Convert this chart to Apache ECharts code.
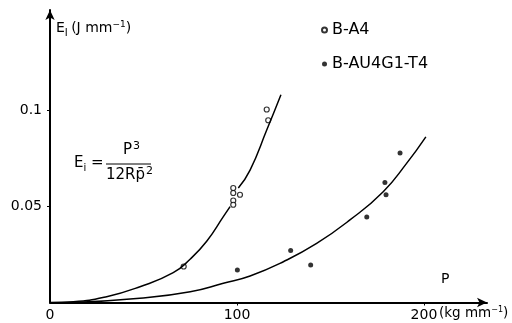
<!DOCTYPE html>
<html><head><meta charset="utf-8">
<script src="https://cdn.jsdelivr.net/npm/echarts@6/dist/echarts.min.js"></script>
<style>html,body{margin:0;padding:0;background:#fff}#c{width:512px;height:323px}</style>
</head><body><div id="c"></div>
<script>
// B-A4 (open circles)
const aP = [71.5, 98, 98, 98, 98, 101.6, 115.9, 116.7];
const aE = [0.0187, 0.0595, 0.0569, 0.053, 0.0508, 0.056, 0.1003, 0.0947];
// B-AU4G1-T4 (filled dots)
const bP = [100.2, 128.7, 139.4, 169.4, 179.1, 179.7, 187.2];
const bE = [0.0169, 0.027, 0.0195, 0.0444, 0.0624, 0.056, 0.0777];
// fitted curves ('-' = gap in the drawn line)
const curveAP = [0, 12.5, 30.3, 48.1, 65.9, 74.9, 83.8, 92.7, 96.3, 98.5, 100.7, 107, 115.9, 123.5];
const curveAE = [0, 0.0004, 0.003, 0.0082, 0.0155, 0.0225, 0.0318, 0.0446, 0.0498, '-', 0.0595, 0.0688, 0.0896, 0.108];
const curveBP = [12.5, 48, 75, 92.7, 107, 124.8, 142.6, 160.4, 178.2, 190.7, 201];
const curveBE = [0, 0.0022, 0.0056, 0.01, 0.0138, 0.0212, 0.0307, 0.0429, 0.0576, 0.0723, 0.0861];
const xLabels = [0, 100, 200];
const yLabels = [0.05, 0.1];

const zip = (xs, ys) => xs.map((x, i) => [x, ys[i]]);
const font = 'DejaVu Sans';
const chart = echarts.init(document.getElementById('c'));
chart.setOption({
  animation: false,
  backgroundColor: '#fff',
  grid: {left: 50, right: 25, top: 10, bottom: 20.5},
  xAxis: {
    type: 'value', min: 0, max: 233.7, interval: 100,
    splitLine: {show: false},
    axisLine: {lineStyle: {color: '#000', width: 2}, symbol: ['none', 'arrow'], symbolSize: [7, 10]},
    axisTick: {customValues: [100, 200], length: 3, lineStyle: {color: '#000'}},
    axisLabel: {customValues: xLabels, color: '#000', fontFamily: font, fontSize: 14, margin: 6,
      formatter: v => String(v)}
  },
  yAxis: {
    type: 'value', min: 0, max: 0.152, interval: 0.05,
    splitLine: {show: false},
    axisLine: {lineStyle: {color: '#000', width: 2}, symbol: ['none', 'arrow'], symbolSize: [7, 10]},
    axisTick: {customValues: yLabels, length: 3, lineStyle: {color: '#000'}},
    axisLabel: {customValues: yLabels, color: '#000', fontFamily: font, fontSize: 14, margin: 8,
      formatter: v => String(v)}
  },
  legend: {
    orient: 'vertical', left: 316, top: 17, itemGap: 18, itemWidth: 5, itemHeight: 5,
    textStyle: {color: '#000', fontFamily: font, fontSize: 16},
    data: [{name: 'B-A4', icon: 'circle'}, {name: 'B-AU4G1-T4', icon: 'circle'}]
  },
  series: [
    {type: 'line', data: zip(curveAP, curveAE), smooth: 0.5, showSymbol: false, silent: true,
      connectNulls: false, lineStyle: {color: '#000', width: 1.5}},
    {type: 'line', data: zip(curveBP, curveBE), smooth: 0.5, showSymbol: false, silent: true,
      lineStyle: {color: '#000', width: 1.5}},
    {name: 'B-A4', type: 'scatter', data: zip(aP, aE), symbol: 'circle', symbolSize: 5,
      itemStyle: {color: '#fff', borderColor: '#000', borderWidth: 1.2}},
    {name: 'B-AU4G1-T4', type: 'scatter', data: zip(bP, bE), symbol: 'circle', symbolSize: 5,
      itemStyle: {color: '#000'}}
  ],
  graphic: [
    {type: 'text', left: 56, top: 20, style: {
      text: '{m|E}{s|I} {m|(J mm}{u|−1}{m|)}', rich: {
        m: {fontFamily: font, fontSize: 14, fill: '#000'},
        s: {fontFamily: font, fontSize: 10, fill: '#000', padding: [9, 0, 0, 0]},
        u: {fontFamily: font, fontSize: 9, fill: '#000', padding: [0, 0, 8, 0]}
      }}},
    {type: 'text', left: 74, top: 156, style: {
      text: '{m|E}{s|i}{m| =}', rich: {
        m: {fontFamily: font, fontSize: 15, fill: '#000'},
        s: {fontFamily: font, fontSize: 10, fill: '#000', padding: [9, 0, 0, 0]}
      }}},
    {type: 'text', left: 123, top: 141, style: {
      text: '{m|P}{u|3}', rich: {
        m: {fontFamily: font, fontSize: 15, fill: '#000'},
        u: {fontFamily: font, fontSize: 11, fill: '#000', padding: [0, 0, 7, 1]}
      }}},
    {type: 'line', shape: {x1: 106, y1: 164, x2: 151, y2: 164}, style: {stroke: '#000', lineWidth: 1}},
    {type: 'text', left: 106, top: 166, style: {
      text: '{m|12Rp̄}{u|2}', rich: {
        m: {fontFamily: font, fontSize: 15, fill: '#000'},
        u: {fontFamily: font, fontSize: 11, fill: '#000', padding: [0, 0, 7, 1]}
      }}},
    {type: 'text', left: 441, top: 272, style: {text: 'P', fontFamily: font, fontSize: 14, fill: '#000'}},
    {type: 'text', left: 439, top: 306, style: {
      text: '{m|(kg mm}{u|−1}{m|)}', rich: {
        m: {fontFamily: font, fontSize: 13.5, fill: '#000'},
        u: {fontFamily: font, fontSize: 8, fill: '#000', padding: [0, 0, 7, 0]}
      }}}
  ]
});
</script></body></html>
